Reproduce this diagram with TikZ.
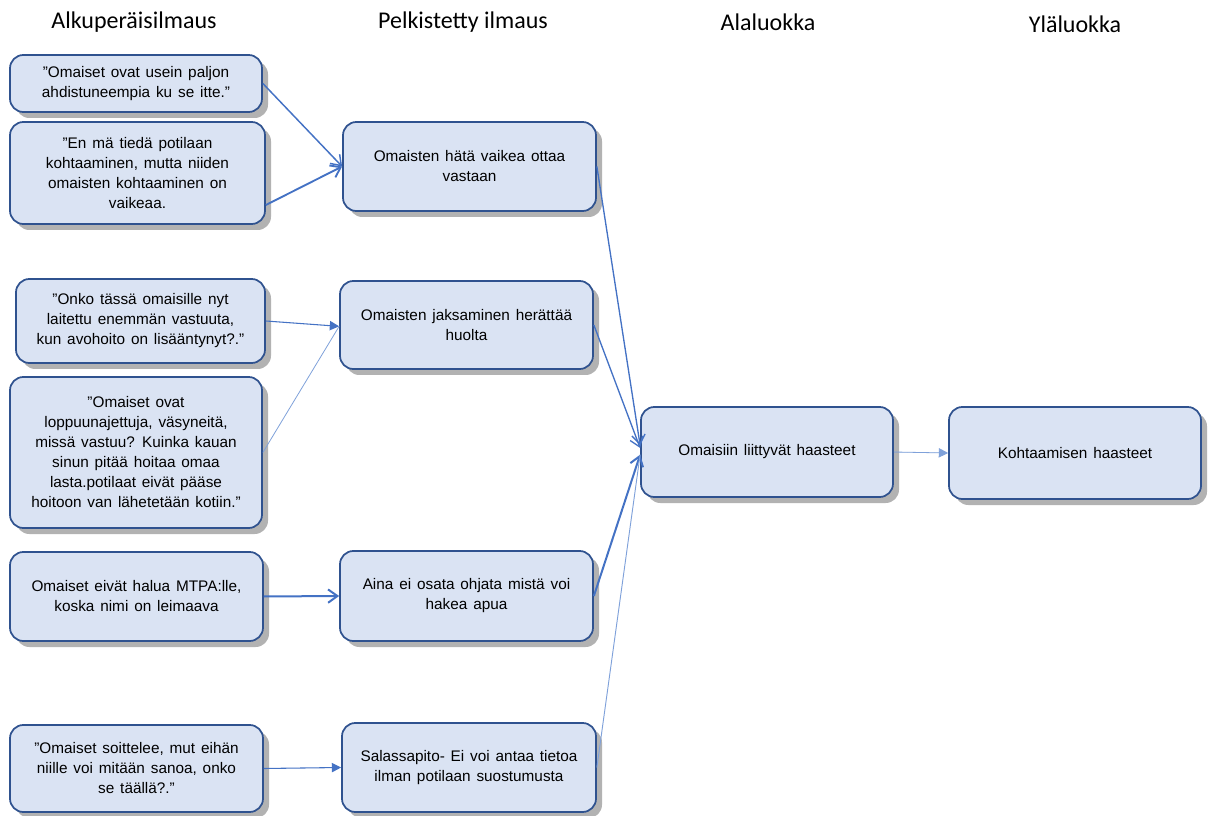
\documentclass[tikz,border=0pt]{standalone}
\usepackage{fontspec}
\setmainfont{Liberation Sans}
\newfontfamily\otsikkofontti{Carlito}
\usetikzlibrary{arrows.meta,shadows}
\definecolor{laatikko}{HTML}{DAE3F3}
\definecolor{reuna}{HTML}{2F528F}
\definecolor{nuoli}{HTML}{4472C4}
\definecolor{vaalea}{HTML}{7FA1DA}
\newcommand\laatikkofontti{\fontsize{11.5}{15}\selectfont\spaceskip=4.4pt plus 1pt minus 1pt}

\tikzset{
  kortti/.style 2 args={draw=reuna, fill=laatikko, line width=1.3pt, rounded corners=10pt,
    align=center, font=\laatikkofontti, inner sep=0pt,
    minimum width=#1*0.75pt, minimum height=#2*0.75pt,
    drop shadow={shadow xshift=4.5pt, shadow yshift=-4.5pt, opacity=.55, fill=black!55}},
  otsikko/.style={font=\otsikkofontti\fontsize{18}{20}\selectfont},
  avoin/.style={draw=nuoli, line width=#1, -{Straight Barb[length=7pt,width=10pt]}},
  umpi/.style={draw=nuoli, line width=#1, -{Triangle[length=7pt,width=7pt]}},
}

\begin{document}
\begin{tikzpicture}[x=0.75pt,y=-0.75pt]
    \useasboundingbox (0,0) rectangle (1214,816);

    \node[otsikko] (h1) at (134,22) {Alkuperäisilmaus};
    \node[otsikko] (h2) at (463,22) {Pelkistetty ilmaus};
    \node[otsikko] (h3) at (768,22) {Alaluokka};
    \node[otsikko] (h4) at (1075,24) {Yläluokka};

    \node[kortti={252}{57}] (a1) at (136,83.5) {”Omaiset ovat usein paljon\\ahdistuneempia ku se itte.”};
    \node[kortti={255}{102}] (a2) at (137.5,173) {”En mä tiedä potilaan\\kohtaaminen, mutta niiden\\omaisten kohtaaminen on\\vaikeaa.};
    \node[kortti={249}{84}] (a3) at (140.5,321) {”Onko tässä omaisille nyt\\laitettu enemmän vastuuta,\\kun avohoito on lisääntynyt?.”};
    \node[kortti={252}{151}] (a4) at (136,452.5) {”Omaiset ovat\\loppuunajettuja, väsyneitä,\\missä vastuu? Kuinka kauan\\sinun pitää hoitaa omaa\\lasta.potilaat eivät pääse\\hoitoon van lähetetään kotiin.”};
    \node[kortti={253}{89}] (a5) at (136.5,596.5) {Omaiset eivät halua MTPA:lle,\\koska nimi on leimaava};
    \node[kortti={253}{87}] (a6) at (136.5,768.5) {”Omaiset soittelee, mut eihän\\niille voi mitään sanoa, onko\\se täällä?.”};

    \node[kortti={253}{89}] (b1) at (469.5,166.5) {Omaisten hätä vaikea ottaa\\vastaan};
    \node[kortti={253}{88}] (b2) at (466.5,325) {Omaisten jaksaminen herättää\\huolta};
    \node[kortti={253}{90}] (b3) at (466.5,596) {Aina ei osata ohjata mistä voi\\hakea apua};
    \node[kortti={254}{89}] (b4) at (469,767.5) {Salassapito- Ei voi antaa tietoa\\ilman potilaan suostumusta};

    \node[kortti={252}{90}] (c1) at (767,452) {Omaisiin liittyvät haasteet};
    \node[kortti={252}{92}] (d1) at (1075,453) {Kohtaamisen haasteet};

    \draw[avoin=1.1pt] (a1.east) -- (b1.west);
    \draw[avoin=1.4pt] ([yshift=-24pt]a2.east) -- (b1.west);
    \draw[umpi=0.8pt] (a3.east) -- ([yshift=-1pt]b2.west);
    \draw[draw=vaalea, line width=0.6pt] (a4.east) -- ([yshift=-1pt]b2.west);
    \draw[avoin=1.5pt] (a5.east) -- (b3.west);
    \draw[umpi=0.8pt] (a6.east) -- (b4.west);

    \draw[avoin=1pt] (b1.east) -- ([yshift=5pt]c1.west);
    \draw[avoin=1pt] (b2.east) -- ([yshift=3pt]c1.west);
    \draw[avoin=1.5pt] (b3.east) -- ([yshift=-2pt]c1.west);
    \draw[draw=vaalea, line width=0.7pt] (b4.east) -- ([yshift=-2pt]c1.west);

    \draw[umpi=0.6pt, draw=vaalea, fill=nuoli] (c1.east) -- (d1.west);
\end{tikzpicture}
\end{document}
